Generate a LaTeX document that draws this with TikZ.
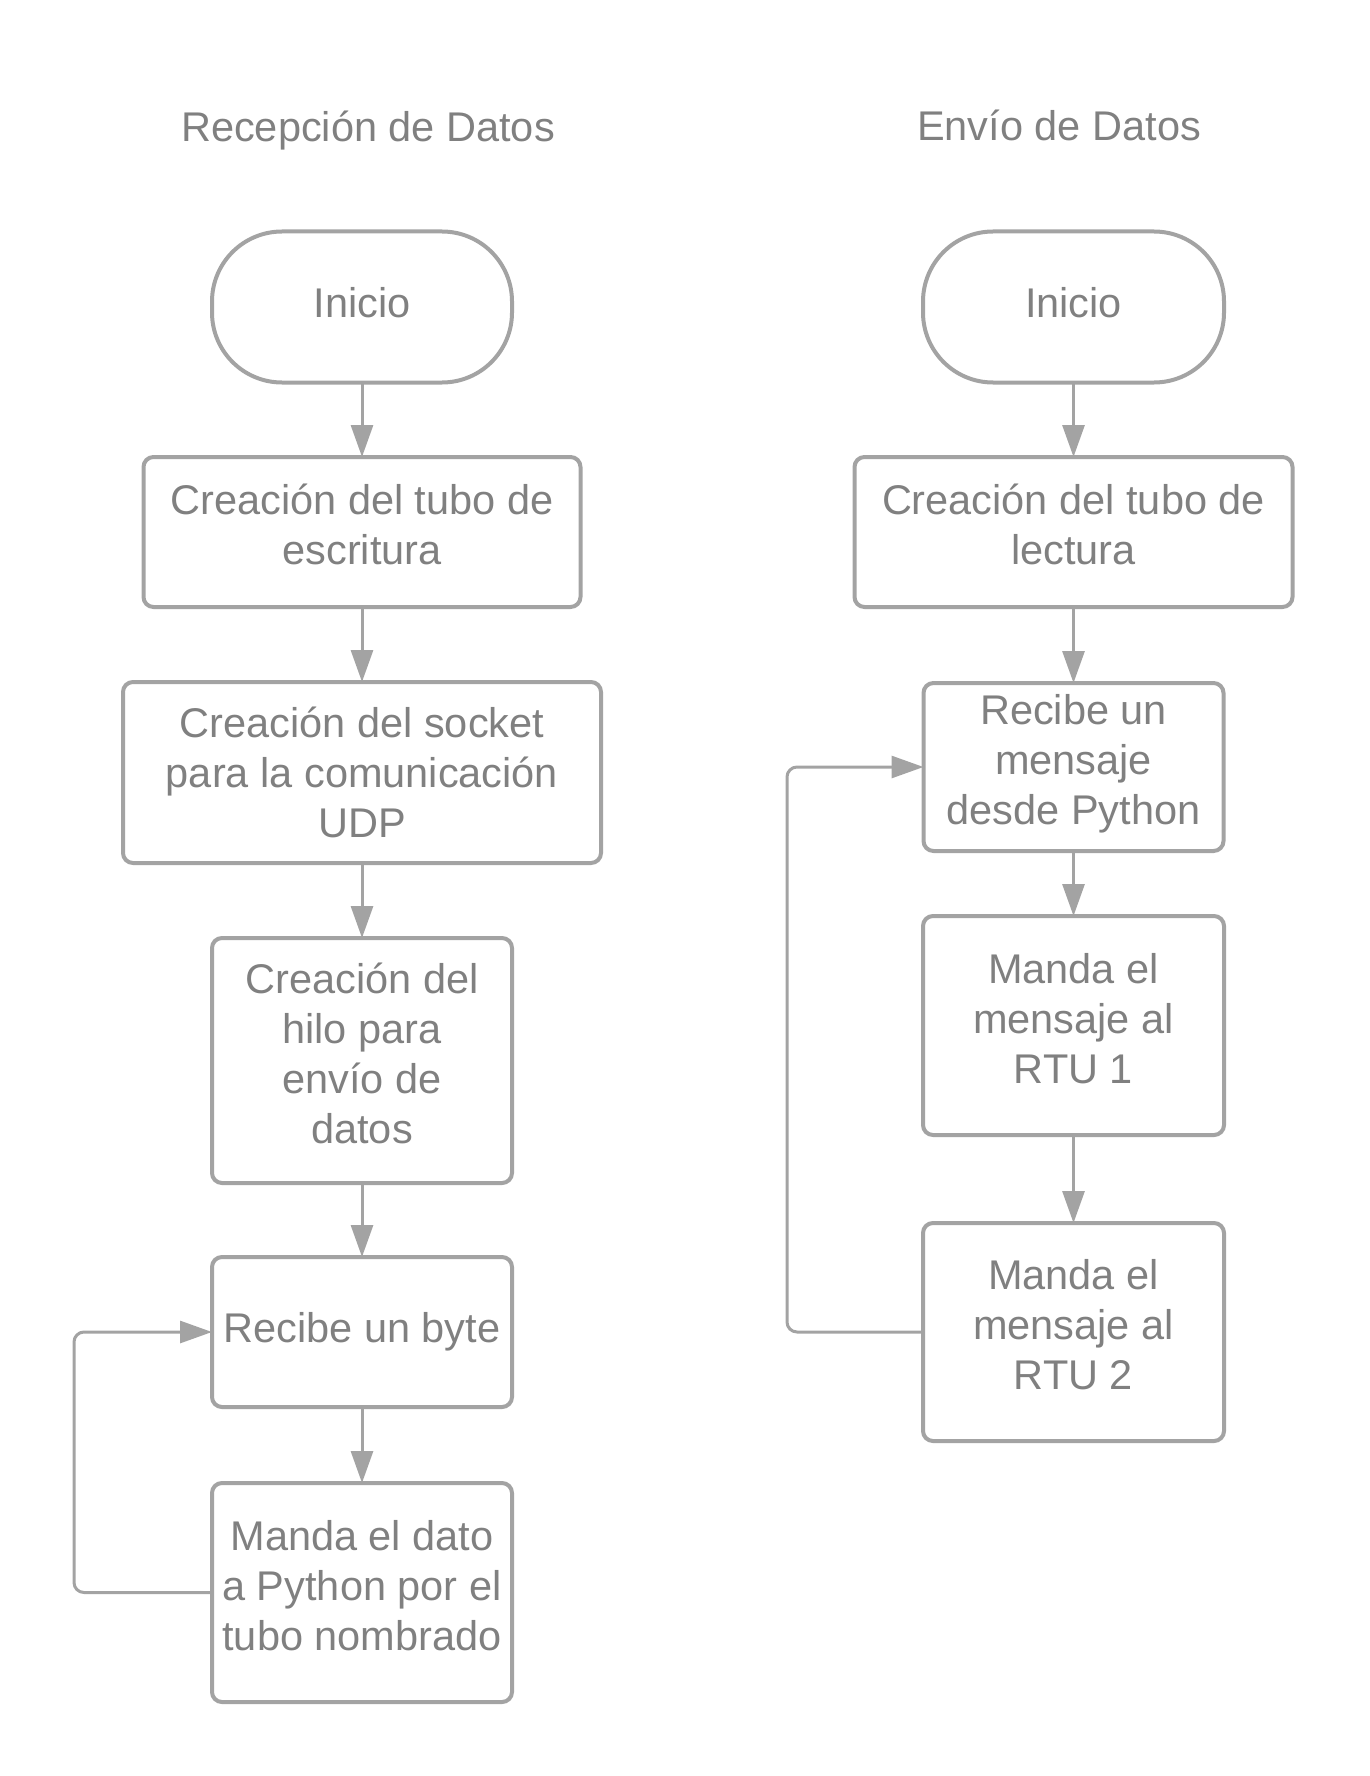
\documentclass[tikz,border=0pt]{standalone}
\usepackage{fontspec}
\setmainfont{Liberation Sans}
\usetikzlibrary{positioning,arrows.meta}
\definecolor{txtgray}{RGB}{128,128,128}
\definecolor{linegray}{RGB}{163,163,163}
\tikzset{
  >={Triangle[length=32pt,width=22pt]},
  font = \fontsize{41.5}{50}\selectfont,
  lastdepth/.store in = \lastdepth,
  lastdepth = 15pt,
  box/.style={
    draw            = linegray,
    line width      = 4pt,
    rounded corners = 10pt,
    text            = txtgray,
    align           = center,
    inner sep       = 0pt,
    outer sep       = 0pt,
    minimum width   = 300pt,
    minimum height  = 150pt,
    execute at begin node = {\rule{0pt}{35pt}},
    execute at end node   = {\rule[-\lastdepth]{0pt}{\lastdepth}}},
  term/.style={
    box,
    rounded corners = 70pt,
    minimum height  = 151pt},
  title/.style={
    text = txtgray},
  flow/.style={
    ->,
    draw       = linegray,
    line width = 3pt},
  back/.style={
    flow,
    rounded corners = 10pt}
}

\begin{document}
\begin{tikzpicture}[x=1pt, y=-1pt]
\useasboundingbox (0,0) rectangle (1369,1776);

\node[title] (tit1) at (368,130.5) {Recepción de Datos};
\node[title] (tit2) at (1059,125.5) {Envío de Datos};

% recepcion
\node[term] (ini1) at (362,307) {Inicio};
\node[box, minimum width=437pt, below = 74.5pt of ini1] (tuboesc)
      {Creación del tubo de\\escritura};
\node[box, minimum width=478pt, minimum height=181pt, lastdepth=0pt,
      below = 75pt of tuboesc] (socket)
      {Creación del socket\\para la comunicación\\UDP};
\node[box, minimum height=245pt, below = 75pt of socket] (hilo)
      {Creación del\\hilo para\\envío de\\datos};
\node[box, below = 74pt of hilo] (byte)
      {Recibe un byte};
\node[box, minimum height=219pt, below = 76pt of byte] (dato)
      {Manda el dato\\a Python por el\\tubo nombrado};

\draw[flow] (ini1) -- (tuboesc);
\draw[flow] (tuboesc) -- (socket);
\draw[flow] (socket) -- (hilo);
\draw[flow] (hilo) -- (byte);
\draw[flow] (byte) -- (dato);
\draw[back] (dato.west) -- ++(-138,0) |- (byte.west);

% envio
\node[term, minimum width=301pt] (ini2) at (1073.5,307) {Inicio};
\node[box, minimum width=438pt, below = 74.5pt of ini2] (tubolec)
      {Creación del tubo de\\lectura};
\node[box, minimum height=168pt, below = 76pt of tubolec] (msg)
      {Recibe un\\mensaje\\desde Python};
\node[box, minimum width=301pt, minimum height=219pt, below = 65pt of msg] (rtuA)
      {Manda el\\mensaje al\\RTU 1};
\node[box, minimum width=301pt, minimum height=218pt, below = 88pt of rtuA] (rtuB)
      {Manda el\\mensaje al\\RTU 2};

\draw[flow] (ini2) -- (tubolec);
\draw[flow] (tubolec) -- (msg);
\draw[flow] (msg) -- (rtuA);
\draw[flow] (rtuA) -- (rtuB);
\draw[back] (rtuB.west) -- ++(-136,0) |- (msg.west);

\end{tikzpicture}
\end{document}
